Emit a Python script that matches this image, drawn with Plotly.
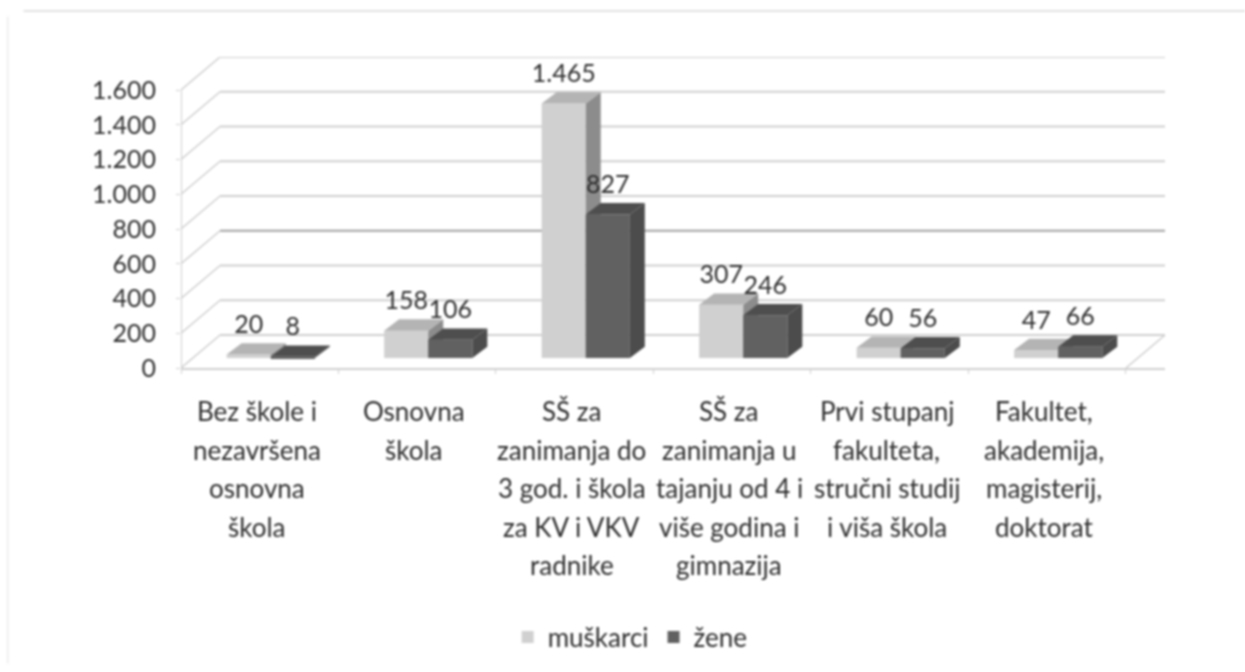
import plotly.graph_objects as go

categories = [
    ["Bez škole i", "nezavršena", "osnovna", "škola"],
    ["Osnovna", "škola"],
    ["SŠ za", "zanimanja do", "3 god. i škola", "za KV i VKV", "radnike"],
    ["SŠ za", "zanimanja u", "tajanju od 4 i", "više godina i", "gimnazija"],
    ["Prvi stupanj", "fakulteta,", "stručni studij", "i viša škola"],
    ["Fakultet,", "akademija,", "magisterij,", "doktorat"],
]
muskarci = [20, 158, 1465, 307, 60, 47]
zene = [8, 106, 827, 246, 56, 66]
y_ticks = [0, 200, 400, 600, 800, 1000, 1200, 1400, 1600]
y_tick_labels = ["0", "200", "400", "600", "800", "1.000", "1.200", "1.400", "1.600"]

FONT = "Lato"
TXT = "#2e2e2e"
GRID = "#cfcfcf"
n = len(categories)
wall_dx, wall_dy = 0.248, 190      # depth of the chart box
off_x, off_y = 0.07, 57            # bar front offset inside the box
depth_x, depth_y = 0.095, 65       # bar depth
bar_w = 0.28
label_lift = 22


def fmt(v):
    return f"{v:,}".replace(",", ".")


def faces(values, left):
    top_x, top_y, side_x, side_y = [], [], [], []
    for i, v in enumerate(values):
        x0 = i + 0.5 + off_x + left
        x1 = x0 + bar_w
        t = off_y + v
        top_x += [x0, x1, x1 + depth_x, x0 + depth_x, x0, None]
        top_y += [t, t, t + depth_y, t + depth_y, t, None]
        side_x += [x1, x1 + depth_x, x1 + depth_x, x1, x1, None]
        side_y += [off_y, off_y + depth_y, t + depth_y, t, off_y, None]
    return top_x, top_y, side_x, side_y


fig = go.Figure()


def add_series(name, values, left, front, top, side, xa, ya):
    tx, ty, sx, sy = faces(values, left)
    fig.add_trace(go.Bar(
        name=name, x=[i + 0.5 + off_x + left + bar_w / 2 for i in range(n)], y=values,
        base=off_y, width=bar_w, marker=dict(color=front, line=dict(width=0)),
        xaxis=xa, yaxis=ya, hoverinfo="skip"))
    for fx, fy, col in ((sx, sy, side), (tx, ty, top)):
        fig.add_trace(go.Scatter(
            x=fx, y=fy, mode="lines", fill="toself", fillcolor=col,
            line=dict(width=0, color=col), showlegend=False, xaxis=xa, yaxis=ya, hoverinfo="skip"))


add_series("muškarci", muskarci, -bar_w, "#d0d0d0", "#b4b4b4", "#8c8c8c", "x", "y")
add_series("žene", zene, 0, "#616161", "#4e4e4e", "#4c4c4c", "x2", "y2")

# value labels
lab_x, lab_y, lab_t = [], [], []
for i in range(n):
    for v, left in ((muskarci[i], -bar_w), (zene[i], 0)):
        lab_x.append(i + 0.5 + off_x + left + bar_w / 2)
        lab_y.append(off_y + v + depth_y + label_lift)
        lab_t.append(fmt(v))
fig.add_trace(go.Scatter(
    x=lab_x, y=lab_y, text=lab_t, mode="text", textposition="top center",
    textfont=dict(family=FONT, size=25, color=TXT), showlegend=False,
    xaxis="x2", yaxis="y2", hoverinfo="skip"))

# box: back wall lines, side diagonals, floor
shapes = []
for v in y_ticks:
    col = "#a0a0a0" if v == 600 else GRID
    shapes.append(dict(type="line", xref="x", yref="y", x0=wall_dx, y0=v + wall_dy,
                       x1=n + wall_dx, y1=v + wall_dy, line=dict(color=col, width=2), layer="below"))
    shapes.append(dict(type="line", xref="x", yref="y", x0=0, y0=v, x1=wall_dx, y1=v + wall_dy,
                       line=dict(color=GRID, width=1.5), layer="below"))
shapes.append(dict(type="line", xref="x", yref="y", x0=n, y0=0, x1=n + wall_dx, y1=wall_dy,
                   line=dict(color=GRID, width=1.5), layer="below"))
shapes.append(dict(type="line", xref="x", yref="y", x0=0, y0=0, x1=0, y1=1600,
                   line=dict(color=GRID, width=2), layer="below"))
# faint scan edges
shapes.append(dict(type="line", xref="paper", yref="paper", x0=-0.16, y0=1.148, x1=1.09, y1=1.148,
                   line=dict(color="#e2e2e2", width=2), layer="below"))
shapes.append(dict(type="line", xref="paper", yref="paper", x0=-0.176, y0=1.13, x1=-0.176, y1=-0.95,
                   line=dict(color="#f0f0f0", width=2), layer="below"))

annotations = []
for i, lines in enumerate(categories):
    for j, line in enumerate(lines):
        annotations.append(dict(
            xref="x", yref="y", x=i + 0.5, y=0, text=line, showarrow=False,
            xanchor="center", yanchor="middle", xshift=-3, yshift=-(43 + 38.5 * j),
            font=dict(family=FONT, size=26, color=TXT)))

fig.update_layout(
    width=1245, height=672, margin=dict(l=181, r=80, t=57, b=304),
    paper_bgcolor="white", plot_bgcolor="white", barmode="overlay",
    font=dict(family=FONT, size=25, color=TXT),
    shapes=shapes, annotations=annotations,
    xaxis=dict(range=[0, n + wall_dx], tickvals=list(range(n + 1)), showticklabels=False,
               ticks="outside", ticklen=4, tickcolor=GRID, showgrid=False, zeroline=False,
               showline=True, linecolor=GRID, linewidth=2),
    yaxis=dict(range=[0, 1600 + wall_dy], tickvals=y_ticks, ticktext=y_tick_labels,
               ticks="outside", ticklen=4, tickcolor=GRID, showgrid=False, zeroline=False,
               showline=False, ticklabelstandoff=15),
    xaxis2=dict(overlaying="x", matches="x", visible=False),
    yaxis2=dict(overlaying="y", matches="y", visible=False),
    legend=dict(orientation="h", x=0.332, y=-0.865, xanchor="left", yanchor="middle",
                font=dict(family=FONT, size=26, color=TXT), bgcolor="rgba(0,0,0,0)"),
)

fig.write_html("out.html", config=dict(displayModeBar=False),
               post_script="document.body.style.margin='0';"
                           "document.querySelector('.plotly-graph-div').style.filter='blur(0.9px)';")
